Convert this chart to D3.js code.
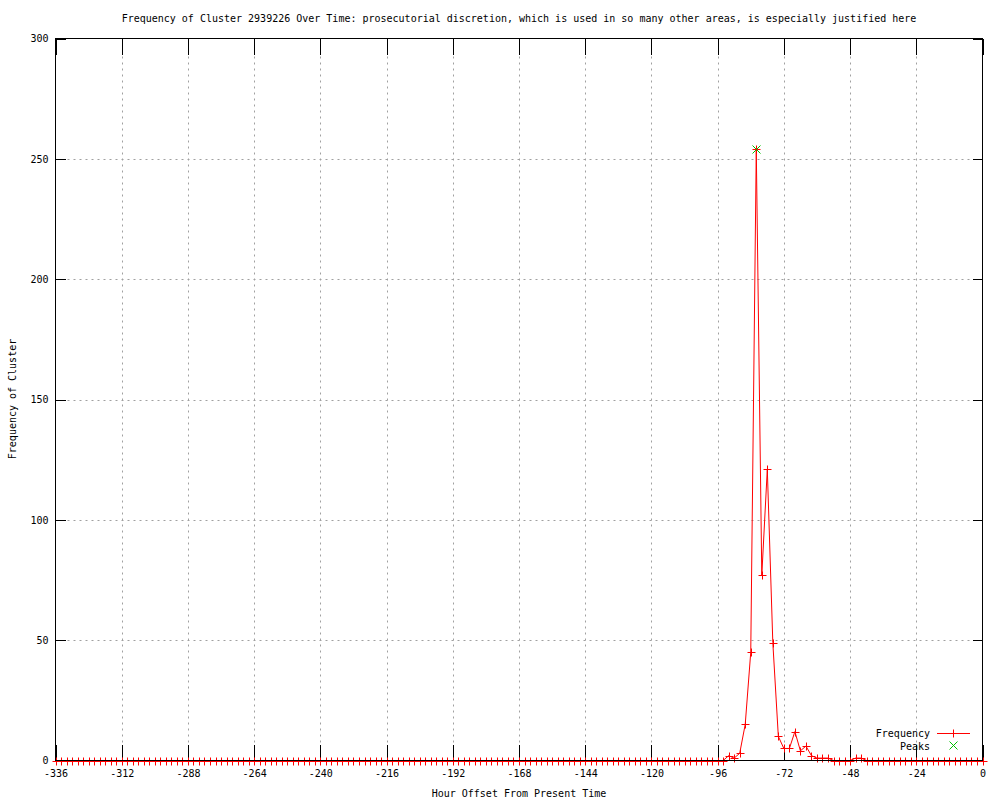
<!DOCTYPE html>
<html>
<head>
<meta charset="utf-8">
<script src="https://cdn.jsdelivr.net/npm/d3@7"></script>
<style>
  body { margin: 0; background: #fff; }
  svg { display: block; }
  text { font-family: "DejaVu Sans Mono", monospace; font-size: 10px; fill: #000; }
</style>
</head>
<body>
<svg id="chart" width="1000" height="800"></svg>
<script>
// ---- data ----
const hours = [
  -336,-334,-332,-330,-328,-326,-324,-322,-320,-318,-316,-314,-312,-310,-308,-306,-304,-302,-300,-298,
  -296,-294,-292,-290,-288,-286,-284,-282,-280,-278,-276,-274,-272,-270,-268,-266,-264,-262,-260,-258,
  -256,-254,-252,-250,-248,-246,-244,-242,-240,-238,-236,-234,-232,-230,-228,-226,-224,-222,-220,-218,
  -216,-214,-212,-210,-208,-206,-204,-202,-200,-198,-196,-194,-192,-190,-188,-186,-184,-182,-180,-178,
  -176,-174,-172,-170,-168,-166,-164,-162,-160,-158,-156,-154,-152,-150,-148,-146,-144,-142,-140,-138,
  -136,-134,-132,-130,-128,-126,-124,-122,-120,-118,-116,-114,-112,-110,-108,-106,-104,-102,-100,-98,
  -96,-94,-92,-90,-88,-86,-84,-82,-80,-78,-76,-74,-72,-70,-68,-66,-64,-62,-60,-58,
  -56,-54,-52,-50,-48,-46,-44,-42,-40,-38,-36,-34,-32,-30,-28,-26,-24,-22,-20,-18,
  -16,-14,-12,-10,-8,-6,-4,-2,0
];
const frequency = [
  0,0,0,0,0,0,0,0,0,0,0,0,0,0,0,0,0,0,0,0,
  0,0,0,0,0,0,0,0,0,0,0,0,0,0,0,0,0,0,0,0,
  0,0,0,0,0,0,0,0,0,0,0,0,0,0,0,0,0,0,0,0,
  0,0,0,0,0,0,0,0,0,0,0,0,0,0,0,0,0,0,0,0,
  0,0,0,0,0,0,0,0,0,0,0,0,0,0,0,0,0,0,0,0,
  0,0,0,0,0,0,0,0,0,0,0,0,0,0,0,0,0,0,0,0,
  0,0,2,1,3,15,45,254,77,121,49,10,5,5,12,4,6,2,1,1,
  1,0,0,0,0,1,1,0,0,0,0,0,0,0,0,0,0,0,0,0,
  0,0,0,0,0,0,0,0,0
];
const peakHours = [-82];
const peakValues = [254];

const xTickValues = [-336,-312,-288,-264,-240,-216,-192,-168,-144,-120,-96,-72,-48,-24,0];
const xTickLabels = ["-336","-312","-288","-264","-240","-216","-192","-168","-144","-120","-96","-72","-48","-24","0"];
const yTickValues = [0,50,100,150,200,250,300];
const yTickLabels = ["0","50","100","150","200","250","300"];

const titleText = "Frequency of Cluster 2939226 Over Time: prosecutorial discretion, which is used in so many other areas, is especially justified here";
const xLabel = "Hour Offset From Present Time";
const yLabel = "Frequency of Cluster";
const seriesNames = ["Frequency", "Peaks"];

// ---- layout ----
const L = 55.5, R = 982.5, T = 38.5, B = 760.5;
const svg = d3.select("#chart");
const x = d3.scaleLinear().domain([-336, 0]).range([L, R]);
const y = d3.scaleLinear().domain([0, 300]).range([B, T]);

const RED = "#ff0000", GREEN = "#00c000", GRID = "#a0a0a0";

// grid
const grid = svg.append("g");
grid.selectAll("line.gx").data(xTickValues.slice(1, -1)).enter().append("line")
  .attr("x1", d => Math.round(x(d)) + 0.5).attr("x2", d => Math.round(x(d)) + 0.5)
  .attr("y1", T).attr("y2", B)
  .attr("stroke", GRID).attr("stroke-width", 1).attr("stroke-dasharray", "2,4");
grid.selectAll("line.gy").data(yTickValues.slice(1, -1)).enter().append("line")
  .attr("y1", d => Math.round(y(d)) + 0.5).attr("y2", d => Math.round(y(d)) + 0.5)
  .attr("x1", L).attr("x2", R)
  .attr("stroke", GRID).attr("stroke-width", 1).attr("stroke-dasharray", "2,4");

// axes (ticks inward, mirrored)
const fmtX = d => xTickLabels[xTickValues.indexOf(d)];
const fmtY = d => yTickLabels[yTickValues.indexOf(d)];
const gB = svg.append("g").attr("transform", `translate(0,${B})`)
  .call(d3.axisBottom(x).tickValues(xTickValues).tickFormat(fmtX).tickSize(-16).tickPadding(9));
const gTp = svg.append("g").attr("transform", `translate(0,${T})`)
  .call(d3.axisTop(x).tickValues(xTickValues).tickFormat("").tickSize(-16));
const gLf = svg.append("g").attr("transform", `translate(${L},0)`)
  .call(d3.axisLeft(y).tickValues(yTickValues).tickFormat(fmtY).tickSize(-10).tickPadding(7));
const gRt = svg.append("g").attr("transform", `translate(${R},0)`)
  .call(d3.axisRight(y).tickValues(yTickValues).tickFormat("").tickSize(-10));
[gB, gTp, gLf, gRt].forEach(g => {
  g.select(".domain").remove();
  g.attr("font-family", null).attr("font-size", null);
  g.selectAll(".tick line").attr("stroke", "#000").attr("shape-rendering", "crispEdges");
  g.selectAll(".tick text").attr("fill", "#000");
});

// data line
const pts = hours.map((h, i) => [h, frequency[i]]);
const line = d3.line().x(d => x(d[0])).y(d => y(d[1]));
svg.append("path").datum(pts).attr("d", line)
  .attr("fill", "none").attr("stroke", RED).attr("stroke-width", 1);

// plus markers
const s = 4;
const plusPath = (cx, cy) => `M${cx - s},${cy}H${cx + s}M${cx},${cy - s}V${cy + s}`;
const xPath = (cx, cy) => `M${cx - s},${cy - s}L${cx + s},${cy + s}M${cx - s},${cy + s}L${cx + s},${cy - s}`;
svg.append("g").selectAll("path").data(pts).enter().append("path")
  .attr("d", d => plusPath(Math.round(x(d[0])) + 0.5, Math.round(y(d[1])) + 0.5))
  .attr("stroke", RED).attr("stroke-width", 1).attr("fill", "none");

// peaks
svg.append("g").selectAll("path").data(peakHours.map((h, i) => [h, peakValues[i]])).enter().append("path")
  .attr("d", d => xPath(Math.round(x(d[0])) + 0.5, Math.round(y(d[1])) + 0.5))
  .attr("stroke", GREEN).attr("stroke-width", 1).attr("fill", "none");

// border
svg.append("rect").attr("x", L).attr("y", T).attr("width", R - L).attr("height", B - T)
  .attr("fill", "none").attr("stroke", "#000").attr("stroke-width", 1);

// titles
svg.append("text").attr("x", 519).attr("y", 22).attr("text-anchor", "middle").text(titleText);
svg.append("text").attr("x", 519).attr("y", 797).attr("text-anchor", "middle").text(xLabel);
svg.append("text").attr("transform", "translate(16,399) rotate(-90)").attr("text-anchor", "middle").text(yLabel);

// legend
const lg = svg.append("g");
lg.append("text").attr("x", 930).attr("y", 736.5).attr("text-anchor", "end").text(seriesNames[0]);
lg.append("line").attr("x1", 937).attr("x2", 970).attr("y1", 733.5).attr("y2", 733.5)
  .attr("stroke", RED).attr("stroke-width", 1);
lg.append("path").attr("d", plusPath(953.5, 733.5)).attr("stroke", RED).attr("fill", "none");
lg.append("text").attr("x", 930).attr("y", 749.5).attr("text-anchor", "end").text(seriesNames[1]);
lg.append("path").attr("d", xPath(953.5, 745.5)).attr("stroke", GREEN).attr("fill", "none");
</script>
</body>
</html>
